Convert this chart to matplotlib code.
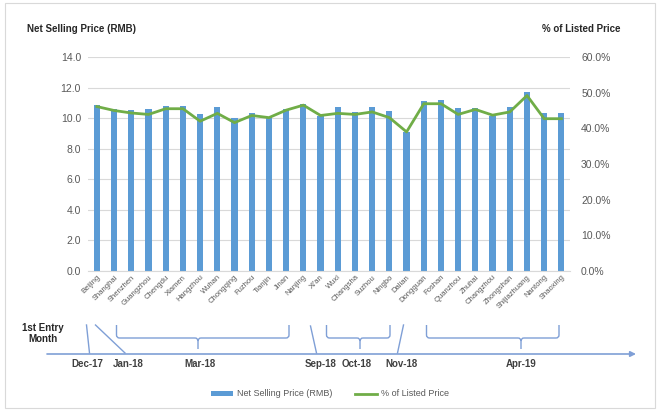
import numpy as np
import matplotlib
matplotlib.use("Agg")
import matplotlib.pyplot as plt
from matplotlib.path import Path
from matplotlib.patches import PathPatch, Rectangle
from matplotlib.ticker import PercentFormatter, FormatStrFormatter

plt.rcParams['font.family'] = ['Liberation Sans', 'DejaVu Sans']

cities = ['Beijing', 'Shanghai', 'Shenzhen', 'Guangzhou', 'Chengdu', 'Xiamen',
          'Hangzhou', 'Wuhan', 'Chongqing', 'Fuzhou', 'Tianjin', 'Jinan',
          'Nanjing', "Xi'an", 'Wuxi', 'Changsha', 'Suzhou', 'Ningbo', 'Dalian',
          'Dongguan', 'Foshan', 'Quanzhou', 'Zhuhai', 'Changzhou', 'Zhongshan',
          'Shijiazhuang', 'Nantong', 'Shaoxing']
net_price = [10.85, 10.6, 10.52, 10.6, 10.8, 10.78, 10.24, 10.7, 10.0, 10.33,
             10.1, 10.6, 10.9, 10.15, 10.74, 10.37, 10.7, 10.48, 9.1, 11.1,
             11.2, 10.67, 10.67, 10.15, 10.72, 11.72, 10.33, 10.33]
pct_listed = [46.1, 45.0, 44.3, 43.9, 45.5, 45.5, 42.0, 44.2, 41.6, 43.6,
              43.0, 45.1, 46.5, 43.6, 44.2, 43.9, 44.6, 43.0, 39.0, 46.9,
              46.9, 43.9, 45.3, 43.7, 44.6, 49.2, 42.7, 42.7]

# entry-month annotations (label, x centre in px)
entry_labels = ['Dec-17', 'Jan-18', 'Mar-18', 'Sep-18', 'Oct-18', 'Nov-18', 'Apr-19']
entry_x = [87, 128, 200, 321, 357, 401, 521]

BLUE = '#5b9bd5'
GREEN = '#70ad47'
GRID = '#d9d9d9'
TXT = '#595959'
TL = '#7f9fd6'

fig = plt.figure(figsize=(6.6, 4.13), dpi=100)
W, H = 660, 413

ax = fig.add_axes([88 / W, 1 - 271 / H, (570 - 88) / W, (271 - 57) / H])
x = np.arange(len(cities))
ax.bar(x, net_price, width=0.36, color=BLUE, zorder=2, label='Net Selling Price (RMB)')
ax.set_xlim(-0.52, 27.5)
ax.set_ylim(0, 14)
ax.set_yticks(np.arange(0, 14.1, 2))
ax.yaxis.set_major_formatter(FormatStrFormatter('%.1f'))
ax.grid(axis='y', color=GRID, lw=0.8, zorder=0)
for s in ['top', 'right', 'left']:
    ax.spines[s].set_visible(False)
ax.spines['bottom'].set_color(GRID)
ax.tick_params(axis='y', length=0, labelsize=7.5, labelcolor=TXT, pad=5)
ax.tick_params(axis='x', length=0, pad=2)
ax.set_xticks(x)
ax.set_xticklabels(cities, rotation=45, ha='right', rotation_mode='anchor',
                   fontsize=5.5, color=TXT)

ax2 = ax.twinx()
ax2.plot(x, np.array(pct_listed) / 100, color=GREEN, lw=2.0, zorder=3,
         label='% of Listed Price')
ax2.set_ylim(0, 0.6)
ax2.set_yticks(np.arange(0, 0.61, 0.1))
ax2.yaxis.set_major_formatter(PercentFormatter(1, decimals=1))
ax2.tick_params(axis='y', length=0, labelsize=7.5, labelcolor=TXT, pad=8)
for s in ax2.spines.values():
    s.set_visible(False)

fig.text(27 / W, 1 - 29 / H, 'Net Selling Price (RMB)', fontsize=7, fontweight='bold',
         color='#262626', va='center', ha='left')
fig.text(621 / W, 1 - 29 / H, '% of Listed Price', fontsize=7, fontweight='bold',
         color='#262626', va='center', ha='right')

h1, l1 = ax.get_legend_handles_labels()
h2, l2 = ax2.get_legend_handles_labels()
fig.legend(h1 + h2, l1 + l2, loc='center', bbox_to_anchor=(0.5, 1 - 394 / H),
           ncol=2, frameon=False, fontsize=6.5, labelcolor=TXT,
           handlelength=2.4, handleheight=0.4, columnspacing=2.5, handletextpad=0.5)

# overlay in pixel coordinates for the timeline
ov = fig.add_axes([0, 0, 1, 1])
ov.set_xlim(0, W)
ov.set_ylim(H, 0)
ov.axis('off')

ov.add_patch(Rectangle((5, 3), 650, 405, fill=False, ec='#d9d9d9', lw=0.8))

ov.annotate('', xy=(636, 354), xytext=(47, 354),
            arrowprops=dict(arrowstyle='-|>', color=TL, lw=1.2,
                            mutation_scale=8, shrinkA=0, shrinkB=0))

ov.text(43, 328, '1st Entry', fontsize=7, fontweight='bold', color='#262626',
        ha='center', va='center')
ov.text(43, 338.5, 'Month', fontsize=7, fontweight='bold', color='#262626',
        ha='center', va='center')

for lab, xc in zip(entry_labels, entry_x):
    ov.text(xc, 364, lab, fontsize=7, fontweight='bold', color='#404040',
            ha='center', va='center')

# slanted pointers
for (xa, ya), (xb, yb) in [((86.5, 325), (89.5, 353)), ((95.5, 325), (125, 353)),
                           ((310.5, 326), (316.5, 353)), ((403.5, 325), (397.5, 353))]:
    ov.plot([xa, xb], [ya, yb], color=TL, lw=1.0)


def brace(x0, x1, xm, ytop=325, ymid=338, ytip=349, r=3):
    verts = [(x0, ytop), (x0, ymid - r), (x0, ymid), (x0 + r, ymid),
             (xm - r, ymid), (xm, ymid), (xm, ymid + r), (xm, ytip),
             (xm, ymid + r), (xm, ymid), (xm + r, ymid),
             (x1 - r, ymid), (x1, ymid), (x1, ymid - r), (x1, ytop)]
    codes = [Path.MOVETO, Path.LINETO, Path.CURVE3, Path.CURVE3,
             Path.LINETO, Path.CURVE3, Path.CURVE3, Path.LINETO,
             Path.MOVETO, Path.CURVE3, Path.CURVE3,
             Path.LINETO, Path.CURVE3, Path.CURVE3, Path.LINETO]
    ov.add_patch(PathPatch(Path(verts, codes), fill=False, ec=TL, lw=1.0))


brace(116.5, 289, 198)
brace(326.5, 390, 360)
brace(426.5, 559, 521)

fig.savefig('out.png', dpi=100)
